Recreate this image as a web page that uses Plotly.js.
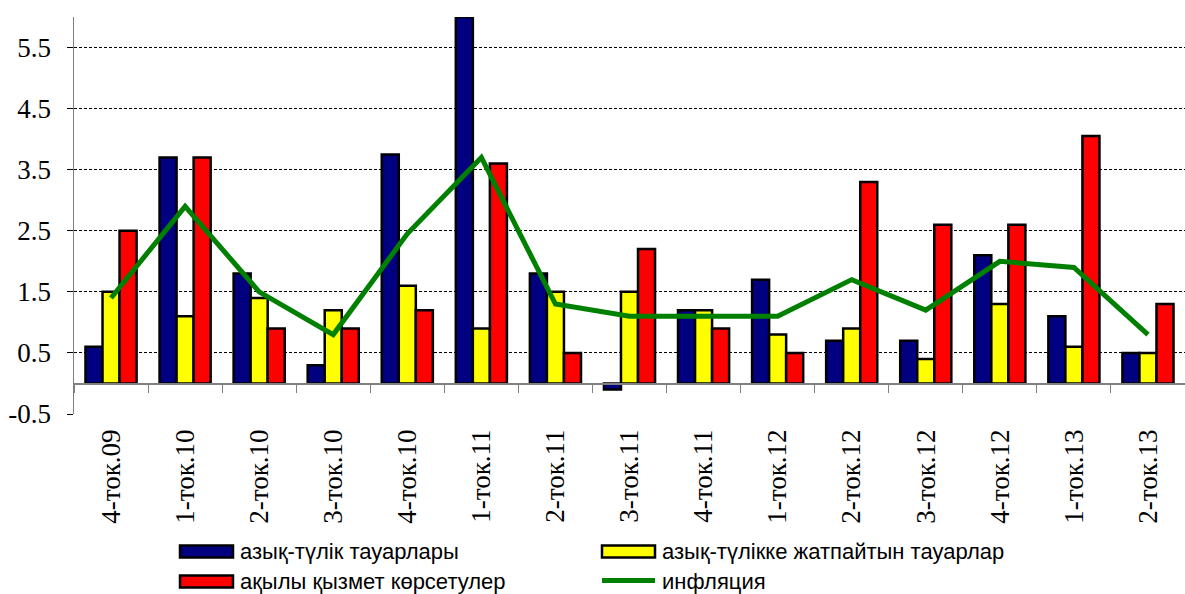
<!DOCTYPE html>
<html>
<head>
<meta charset="utf-8">
<script src="https://cdn.plot.ly/plotly-3.0.1.min.js"></script>
<style>
html,body{margin:0;padding:0;background:#fff;}
#chart{width:1185px;height:594px;}
</style>
</head>
<body>
<div id="chart"></div>
<script>
const categories = ["4-ток.09","1-ток.10","2-ток.10","3-ток.10","4-ток.10","1-ток.11","2-ток.11","3-ток.11","4-ток.11","1-ток.12","2-ток.12","3-ток.12","4-ток.12","1-ток.13","2-ток.13"];
const foodGoods = [0.6, 3.7, 1.8, 0.3, 3.75, 6.0, 1.8, -0.1, 1.2, 1.7, 0.7, 0.7, 2.1, 1.1, 0.5];
const nonFoodGoods = [1.5, 1.1, 1.4, 1.2, 1.6, 0.9, 1.5, 1.5, 1.2, 0.8, 0.9, 0.4, 1.3, 0.6, 0.5];
const paidServices = [2.5, 3.7, 0.9, 0.9, 1.2, 3.6, 0.5, 2.2, 0.9, 0.5, 3.3, 2.6, 2.6, 4.05, 1.3];
const inflation = [1.4, 2.9, 1.5, 0.8, 2.45, 3.7, 1.3, 1.1, 1.1, 1.1, 1.7, 1.2, 2.0, 1.9, 0.8];
const seriesNames = ["азық-түлік тауарлары", "азық-түлікке жатпайтын тауарлар", "ақылы қызмет көрсетулер", "инфляция"];
const seriesColors = ["#000080", "#FFFF00", "#FF0000", "#008000"];
const yTicks = [-0.5, 0.5, 1.5, 2.5, 3.5, 4.5, 5.5];

const W = 1185, H = 594;
const M = {l: 74, r: 0, t: 17, b: 180};
const yRange = [-0.5, 6.0];
const serif = "'Liberation Serif', 'Times New Roman', serif";
const sans = "'Liberation Sans Narrow', 'Arial Narrow', 'Liberation Sans', Arial, sans-serif";

const barLine = {color: '#000000', width: 2.5};
const traces = [
  {type: 'bar', name: seriesNames[0], x: categories, y: foodGoods, marker: {color: seriesColors[0], line: barLine}, showlegend: false},
  {type: 'bar', name: seriesNames[1], x: categories, y: nonFoodGoods, marker: {color: seriesColors[1], line: barLine}, showlegend: false},
  {type: 'bar', name: seriesNames[2], x: categories, y: paidServices, marker: {color: seriesColors[2], line: barLine}, showlegend: false},
  {type: 'scatter', mode: 'lines', name: seriesNames[3], x: categories, y: inflation, line: {color: seriesColors[3], width: 5}, showlegend: false},
  // invisible helper so that the zero-level axis (x2) is drawn
  {type: 'scatter', x: [0], y: [null], xaxis: 'x2', showlegend: false, hoverinfo: 'skip', mode: 'markers', marker: {opacity: 0}}
];

const zeroPos = (0 - yRange[0]) / (yRange[1] - yRange[0]);

// legend built from shapes + text, placed in pixel terms converted to paper coords
const plotW = W - M.l - M.r, plotH = H - M.t - M.b;
const px = v => (v - M.l) / plotW;
const py = v => (H - M.b - v) / plotH;
const legendCols = [180, 602];
const legendRows = [551.5, 581.5];
const swW = 53, swH = 12, textGap = 5;
const shapes = [], annotations = [];
seriesNames.forEach((name, i) => {
  const cx = legendCols[i % 2], cy = legendRows[Math.floor(i / 2)];
  if (i < 3) {
    shapes.push({type: 'rect', xref: 'paper', yref: 'paper',
      x0: px(cx), x1: px(cx + swW), y0: py(cy - swH / 2), y1: py(cy + swH / 2),
      fillcolor: seriesColors[i], line: {color: '#000', width: 2.5}});
  } else {
    shapes.push({type: 'line', xref: 'paper', yref: 'paper',
      x0: px(cx), x1: px(cx + swW), y0: py(cy - 1), y1: py(cy - 1),
      line: {color: seriesColors[i], width: 5}});
  }
  annotations.push({xref: 'paper', yref: 'paper', x: px(cx + swW + textGap), y: py(cy),
    xanchor: 'left', yanchor: 'middle', showarrow: false, text: name,
    font: {family: sans, size: 22, color: '#000'}});
});

const layout = {
  width: W, height: H,
  margin: M,
  paper_bgcolor: '#ffffff', plot_bgcolor: '#ffffff',
  barmode: 'group', bargap: 0.31, bargroupgap: 0,
  showlegend: false,
  shapes: shapes, annotations: annotations,
  xaxis: {
    type: 'category', range: [-0.5, 14.5],
    showline: false, showgrid: false, zeroline: false, ticks: '',
    tickangle: -90, tickfont: {family: serif, size: 27, color: '#000'},
    ticklabelstandoff: 9
  },
  xaxis2: {
    overlaying: 'x', anchor: 'free', position: zeroPos, side: 'bottom',
    range: [-0.5, 14.5], tick0: 0.5, dtick: 1, tickmode: 'linear',
    showticklabels: false, ticks: 'outside', ticklen: 8, tickwidth: 1, tickcolor: '#808080',
    showline: true, linecolor: '#808080', linewidth: 1.5, showgrid: false, zeroline: false
  },
  yaxis: {
    range: yRange, tickvals: yTicks, ticktext: yTicks.map(v => v.toFixed(1)),
    showline: true, linecolor: '#808080', linewidth: 1.5,
    ticks: 'outside', ticklen: 6, tickcolor: '#000', tickwidth: 1,
    showgrid: true, gridcolor: '#000000', gridwidth: 1, griddash: '3px,2px',
    zeroline: false,
    tickfont: {family: serif, size: 27, color: '#000'},
    ticklabelstandoff: 10
  }
};

Plotly.newPlot('chart', traces, layout, {displayModeBar: false, staticPlot: true});
</script>
</body>
</html>
